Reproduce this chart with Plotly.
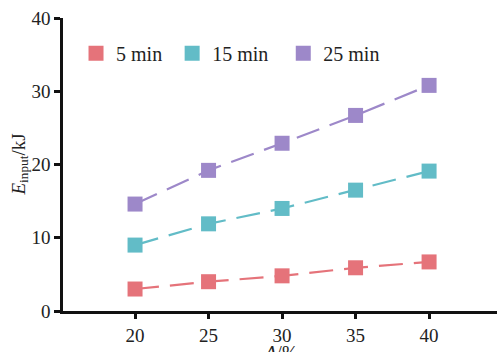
import plotly.graph_objects as go

x_vals = [20, 25, 30, 35, 40]
series_names = ["5 min", "15 min", "25 min"]
y_5 = [3.0, 4.0, 4.8, 5.9, 6.7]
y_15 = [9.0, 11.9, 14.0, 16.5, 19.1]
y_25 = [14.6, 19.2, 22.9, 26.7, 30.8]
colors = ["#e5737a", "#62bcc7", "#9d88c9"]
legend_pad = ["\u00a0", "\u00a0\u00a0", ""]

fig = go.Figure()
for name, ys, c in zip(series_names, [y_5, y_15, y_25], colors):
    fig.add_trace(go.Scatter(
        x=x_vals, y=ys, name=name, mode="lines+markers", showlegend=False,
        line=dict(color=c, width=2.2, dash="24px,11px"),
        marker=dict(symbol="square", size=15, color=c),
    ))
for name, pad, c in zip(series_names, legend_pad, colors):
    fig.add_trace(go.Scatter(
        x=[None], y=[None], name=name + pad, mode="markers",
        marker=dict(symbol="square", size=15, color=c),
    ))

font = "'Liberation Serif', 'Times New Roman', serif"
fig.update_layout(
    width=497, height=352,
    margin=dict(l=63, r=0, t=18, b=41, autoexpand=False),
    paper_bgcolor="white", plot_bgcolor="white",
    font=dict(family=font, size=19, color="#222"),
    showlegend=True,
    legend=dict(orientation="h", x=0.03, y=0.88, xanchor="left", yanchor="middle",
                font=dict(size=20, family=font), bgcolor="rgba(0,0,0,0)",
                itemwidth=30, tracegroupgap=0),
)
fig.add_annotation(text="<i>A</i>/%", xref="paper", yref="paper", x=0.5, y=0,
                   yshift=-41, yanchor="middle", showarrow=False,
                   font=dict(size=19, family=font))
fig.add_annotation(text="<i>E</i><sub>input</sub>/kJ", xref="paper", yref="paper",
                   x=0, y=0.5, xshift=-44, textangle=-90, xanchor="center",
                   yanchor="middle", showarrow=False, font=dict(size=19, family=font))
fig.update_xaxes(
    range=[15.1, 44.62], tickvals=x_vals, showgrid=False, zeroline=False,
    showline=True, linecolor="#111", linewidth=2.5, ticks="outside", ticklen=5,
    tickwidth=2.5, tickcolor="#111", tickfont=dict(size=19, family=font),
    automargin=False,
)
fig.update_yaxes(
    range=[0, 40], tickvals=[0, 10, 20, 30, 40], showgrid=False, zeroline=False,
    showline=True, linecolor="#111", linewidth=2.5, ticks="outside", ticklen=6,
    tickwidth=2.5, tickcolor="#111", tickfont=dict(size=19, family=font),
    automargin=False,
)
fig.write_html("out.html")
